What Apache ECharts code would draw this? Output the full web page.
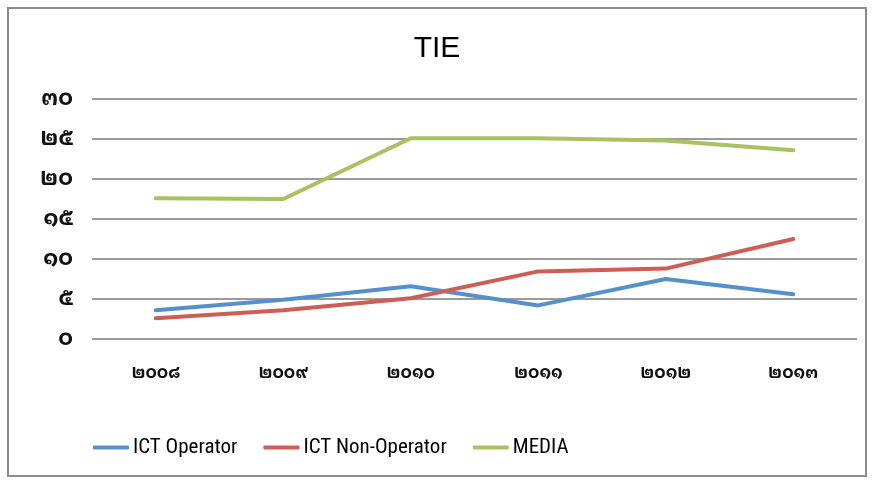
<!DOCTYPE html>
<html>
<head>
<meta charset="utf-8">
<style>
  html, body { margin: 0; padding: 0; background: #fff; }
  #main { width: 874px; height: 484px; }
</style>
<script src="https://cdn.jsdelivr.net/npm/echarts@6/dist/echarts.min.js"></script>
</head>
<body>
<div id="main"></div>
<script>
var categories = ["๒๐๐๘", "๒๐๐๙", "๒๐๑๐", "๒๐๑๑", "๒๐๑๒", "๒๐๑๓"];
var yTicks = ["๐", "๕", "๑๐", "๑๕", "๒๐", "๒๕", "๓๐"];
var ictOperator = [3.6, 4.9, 6.6, 4.2, 7.5, 5.6];
var ictNonOperator = [2.6, 3.6, 5.1, 8.45, 8.8, 12.5];
var media = [17.6, 17.5, 25.1, 25.1, 24.8, 23.6];

var myChart = echarts.init(document.getElementById("main"));

var thaiFont = "'Noto Sans Thai Looped', Loma, sans-serif";

function lineSeries(name, data, color) {
  return {
    name: name,
    type: "line",
    data: data,
    symbol: "none",
    lineStyle: { color: color, width: 4, cap: "round", join: "round" },
    itemStyle: { color: color }
  };
}

var option = {
  animation: false,
  title: {
    text: "TIE",
    left: "center",
    top: 29,
    textStyle: {
      fontFamily: "Liberation Sans",
      fontWeight: "normal",
      fontSize: 30,
      color: "#000"
    }
  },
  legend: {
    top: 432,
    left: 88,
    itemWidth: 36,
    itemHeight: 4,
    itemGap: 26,
    icon: "roundRect",
    textStyle: {
      fontFamily: "Roboto Condensed",
      fontSize: 21,
      color: "#000",
      padding: [0, 0, 0, -1]
    },
    data: ["ICT Operator", "ICT Non-Operator", "MEDIA"]
  },
  grid: {
    left: 92,
    right: 17,
    top: 99,
    bottom: 145
  },
  xAxis: {
    type: "category",
    data: categories,
    axisLine: { show: false },
    axisTick: { show: false },
    axisLabel: {
      margin: 26,
      fontSize: 17,
      fontWeight: "bold",
      color: "#111",
      fontFamily: thaiFont
    }
  },
  yAxis: {
    type: "value",
    min: 0,
    max: 30,
    interval: 5,
    axisLine: { show: false },
    axisTick: { show: false },
    axisLabel: {
      margin: 19,
      fontSize: 22,
      fontWeight: "bold",
      color: "#111",
      fontFamily: thaiFont,
      formatter: function (v) {
        return yTicks[Math.round(v / 5)];
      }
    },
    splitLine: {
      show: true,
      lineStyle: { color: "#9a9a9a", width: 2 }
    }
  },
  graphic: [{
    type: "rect",
    shape: { x: 8, y: 8, width: 858, height: 468 },
    style: { fill: "none", stroke: "#8c8c8c", lineWidth: 2 },
    z: -1
  }],
  series: [
    lineSeries("ICT Operator", ictOperator, "#5690cc"),
    lineSeries("ICT Non-Operator", ictNonOperator, "#cd5e55"),
    lineSeries("MEDIA", media, "#a6c261")
  ]
};

myChart.setOption(option);
</script>
</body>
</html>
